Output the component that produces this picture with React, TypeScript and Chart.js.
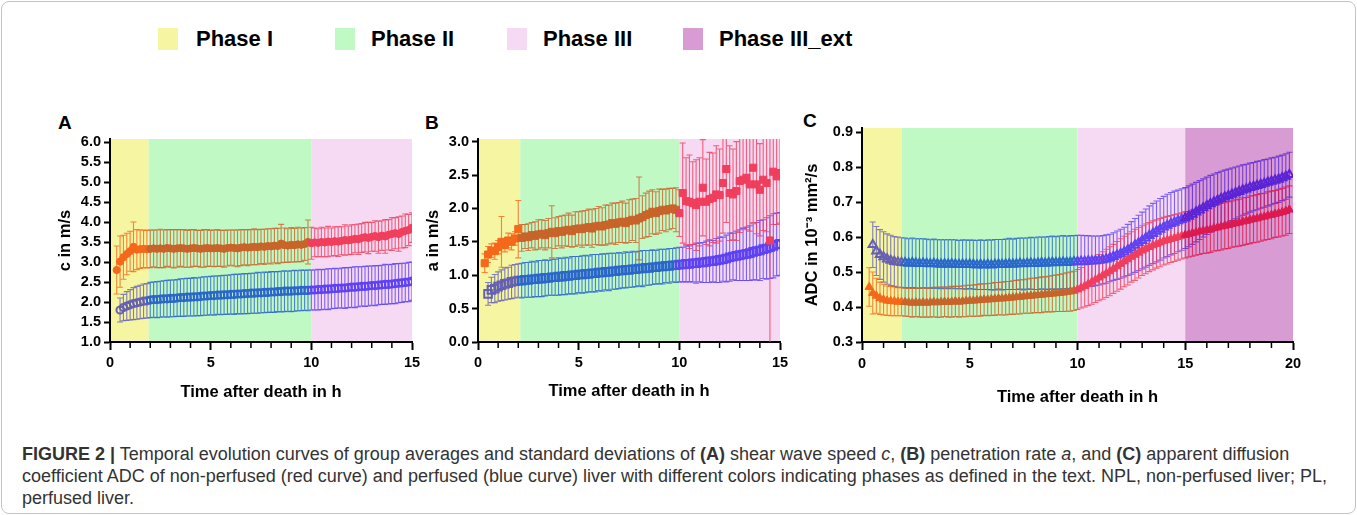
import React, { useEffect, useRef } from "react";
import { Chart, registerables } from "chart.js";

Chart.register(...registerables);

// ---------- time grids (minutes after death) ----------
const TIME_AB_MIN = [
  20, 30, 40, 50, 60, 70, 80, 90, 100, 110,
  120, 130, 140, 150, 160, 170, 180, 190, 200, 210,
  220, 230, 240, 250, 260, 270, 280, 290, 300, 310,
  320, 330, 340, 350, 360, 370, 380, 390, 400, 410,
  420, 430, 440, 450, 460, 470, 480, 490, 500, 510,
  520, 530, 540, 550, 560, 570, 580, 590, 600, 610,
  620, 630, 640, 650, 660, 670, 680, 690, 700, 710,
  720, 730, 740, 750, 760, 770, 780, 790, 800, 810,
  820, 830, 840, 850, 860, 870, 880, 890, 900,
];
const TIME_C_MIN = [
  20, 30, 40, 50, 60, 70, 80, 90, 100, 110,
  120, 130, 140, 150, 160, 170, 180, 190, 200, 210,
  220, 230, 240, 250, 260, 270, 280, 290, 300, 310,
  320, 330, 340, 350, 360, 370, 380, 390, 400, 410,
  420, 430, 440, 450, 460, 470, 480, 490, 500, 510,
  520, 530, 540, 550, 560, 570, 580, 590, 600, 610,
  620, 630, 640, 650, 660, 670, 680, 690, 700, 710,
  720, 730, 740, 750, 760, 770, 780, 790, 800, 810,
  820, 830, 840, 850, 860, 870, 880, 890, 900, 910,
  920, 930, 940, 950, 960, 970, 980, 990, 1000, 1010,
  1020, 1030, 1040, 1050, 1060, 1070, 1080, 1090, 1100, 1110,
  1120, 1130, 1140, 1150, 1160, 1170, 1180, 1190,
];

// ---------- Panel A: shear wave speed c (m/s) ----------
const A_RED_MEAN = [
  2.80, 3.01, 3.12, 3.20, 3.27, 3.38, 3.31, 3.32, 3.33, 3.32,
  3.33, 3.34, 3.33, 3.34, 3.33, 3.35, 3.34, 3.33, 3.34, 3.35,
  3.34, 3.33, 3.34, 3.35, 3.34, 3.33, 3.34, 3.35, 3.34, 3.34,
  3.35, 3.34, 3.33, 3.35, 3.36, 3.35, 3.34, 3.36, 3.37, 3.36,
  3.37, 3.38, 3.37, 3.39, 3.38, 3.40, 3.39, 3.41, 3.40, 3.46,
  3.42, 3.41, 3.43, 3.42, 3.44, 3.43, 3.45, 3.50, 3.47, 3.49,
  3.48, 3.50, 3.49, 3.51, 3.50, 3.52, 3.51, 3.53, 3.55, 3.54,
  3.56, 3.58, 3.57, 3.60, 3.62, 3.60, 3.63, 3.65, 3.62, 3.66,
  3.64, 3.68, 3.70, 3.72, 3.70, 3.75, 3.78, 3.80, 3.86,
];
const A_RED_SD = [
  0.60, 0.64, 0.55, 0.52, 0.50, 0.62, 0.50, 0.48, 0.47, 0.47,
  0.47, 0.46, 0.47, 0.48, 0.47, 0.46, 0.47, 0.48, 0.47, 0.46,
  0.47, 0.46, 0.47, 0.46, 0.45, 0.46, 0.47, 0.46, 0.45, 0.46,
  0.46, 0.45, 0.46, 0.45, 0.44, 0.45, 0.46, 0.45, 0.44, 0.45,
  0.44, 0.45, 0.44, 0.43, 0.44, 0.43, 0.44, 0.43, 0.44, 0.48,
  0.43, 0.42, 0.43, 0.42, 0.43, 0.42, 0.41, 0.55, 0.40, 0.36,
  0.35, 0.37, 0.36, 0.38, 0.35, 0.36, 0.37, 0.35, 0.38, 0.36,
  0.37, 0.35, 0.38, 0.36, 0.37, 0.39, 0.36, 0.38, 0.40, 0.37,
  0.42, 0.38, 0.41, 0.39, 0.43, 0.40, 0.42, 0.39, 0.37,
];
const A_BLUE_MEAN = [
  null, 1.80, 1.86, 1.90, 1.93, 1.96, 1.98, 2.00, 2.02, 2.03,
  2.05, 2.06, 2.06, 2.07, 2.08, 2.08, 2.09, 2.09, 2.10, 2.11,
  2.11, 2.12, 2.12, 2.13, 2.13, 2.14, 2.15, 2.15, 2.16, 2.16,
  2.17, 2.17, 2.18, 2.18, 2.19, 2.19, 2.20, 2.20, 2.21, 2.21,
  2.22, 2.22, 2.23, 2.23, 2.24, 2.24, 2.25, 2.25, 2.26, 2.26,
  2.27, 2.27, 2.27, 2.28, 2.28, 2.29, 2.29, 2.29, 2.30, 2.30,
  2.31, 2.31, 2.32, 2.32, 2.33, 2.34, 2.34, 2.35, 2.35, 2.36,
  2.37, 2.37, 2.38, 2.39, 2.39, 2.40, 2.41, 2.41, 2.42, 2.43,
  2.44, 2.44, 2.45, 2.46, 2.47, 2.48, 2.49, 2.50, 2.52,
];
const A_BLUE_SD = [
  null, 0.30, 0.33, 0.36, 0.38, 0.40, 0.41, 0.42, 0.43, 0.43,
  0.44, 0.44, 0.45, 0.45, 0.45, 0.46, 0.46, 0.46, 0.46, 0.47,
  0.47, 0.47, 0.47, 0.48, 0.47, 0.48, 0.48, 0.48, 0.48, 0.49,
  0.48, 0.49, 0.49, 0.49, 0.49, 0.50, 0.49, 0.50, 0.50, 0.50,
  0.50, 0.50, 0.51, 0.50, 0.51, 0.50, 0.51, 0.51, 0.50, 0.51,
  0.51, 0.50, 0.51, 0.51, 0.50, 0.51, 0.50, 0.51, 0.50, 0.50,
  0.51, 0.50, 0.50, 0.51, 0.50, 0.50, 0.49, 0.50, 0.51, 0.50,
  0.50, 0.51, 0.50, 0.49, 0.50, 0.50, 0.49, 0.50, 0.49, 0.49,
  0.50, 0.49, 0.49, 0.50, 0.49, 0.49, 0.48, 0.49, 0.48,
];

// ---------- Panel B: penetration rate a (m/s) ----------
const B_RED_MEAN = [
  1.18, 1.31, 1.37, 1.36, 1.42, 1.50, 1.45, 1.52, 1.50, 1.55,
  1.69, 1.56, 1.58, 1.57, 1.60, 1.59, 1.61, 1.62, 1.60, 1.63,
  1.65, 1.63, 1.66, 1.65, 1.67, 1.68, 1.66, 1.69, 1.70, 1.69,
  1.71, 1.72, 1.70, 1.73, 1.74, 1.73, 1.75, 1.76, 1.78, 1.77,
  1.79, 1.80, 1.78, 1.81, 1.83, 1.82, 1.85, 1.87, 1.90, 1.92,
  1.95, 1.93, 1.96, 1.98, 1.97, 1.99, 2.00, 1.98, 1.93, 2.23,
  2.11, 2.10, 2.08, 2.05, 2.10, 2.31, 2.10, 2.14, 2.16, 2.21,
  2.20, 2.38, 2.59, 2.23, 2.21, 2.26, 2.41, 2.43, 2.46, 2.36,
  2.61, 2.36, 2.28, 2.43, 2.38, 1.52, 2.55, 2.48, 2.53,
];
const B_RED_SD = [
  0.14, 0.12, 0.10, 0.12, 0.10, 0.38, 0.10, 0.11, 0.12, 0.10,
  0.43, 0.20, 0.18, 0.20, 0.19, 0.21, 0.22, 0.21, 0.22, 0.22,
  0.39, 0.23, 0.22, 0.24, 0.23, 0.25, 0.24, 0.26, 0.25, 0.27,
  0.26, 0.27, 0.28, 0.27, 0.29, 0.28, 0.30, 0.29, 0.30, 0.31,
  0.30, 0.31, 0.30, 0.32, 0.31, 0.33, 0.62, 0.32, 0.33, 0.34,
  0.33, 0.32, 0.33, 0.31, 0.32, 0.31, 0.30, 0.33, 0.35, 0.75,
  0.65, 0.70, 0.62, 0.68, 0.66, 0.72, 0.64, 0.70, 0.67, 0.73,
  0.69, 0.75, 0.80, 0.71, 0.68, 0.74, 0.77, 0.72, 0.78, 0.70,
  0.82, 0.74, 0.69, 0.76, 0.73, 1.55, 0.79, 0.72, 0.75,
];
const B_BLUE_MEAN = [
  null, 0.72, 0.78, 0.80, 0.83, 0.85, 0.87, 0.88, 0.90, 0.91,
  0.92, 0.92, 0.93, 0.93, 0.94, 0.94, 0.95, 0.95, 0.96, 0.96,
  0.97, 0.97, 0.98, 0.98, 0.99, 0.99, 1.00, 1.00, 1.01, 1.01,
  1.02, 1.02, 1.03, 1.03, 1.04, 1.04, 1.05, 1.05, 1.06, 1.06,
  1.07, 1.07, 1.08, 1.08, 1.09, 1.09, 1.10, 1.10, 1.11, 1.11,
  1.12, 1.12, 1.13, 1.13, 1.14, 1.14, 1.15, 1.15, 1.16, 1.16,
  1.17, 1.17, 1.18, 1.18, 1.19, 1.19, 1.20, 1.21, 1.21, 1.22,
  1.23, 1.24, 1.25, 1.27, 1.28, 1.29, 1.30, 1.31, 1.32, 1.33,
  1.35, 1.36, 1.37, 1.39, 1.40, 1.42, 1.44, 1.46, 1.47,
];
const B_BLUE_SD = [
  null, 0.17, 0.19, 0.21, 0.22, 0.23, 0.24, 0.24, 0.25, 0.25,
  0.25, 0.26, 0.26, 0.26, 0.27, 0.26, 0.27, 0.27, 0.27, 0.26,
  0.27, 0.27, 0.28, 0.27, 0.28, 0.27, 0.28, 0.28, 0.27, 0.28,
  0.28, 0.27, 0.28, 0.28, 0.27, 0.28, 0.27, 0.28, 0.27, 0.27,
  0.27, 0.26, 0.27, 0.26, 0.27, 0.26, 0.26, 0.27, 0.26, 0.26,
  0.26, 0.25, 0.26, 0.26, 0.25, 0.26, 0.25, 0.26, 0.26, 0.26,
  0.27, 0.27, 0.28, 0.30, 0.29, 0.30, 0.31, 0.32, 0.31, 0.33,
  0.34, 0.33, 0.35, 0.36, 0.35, 0.37, 0.38, 0.39, 0.40, 0.41,
  0.42, 0.43, 0.45, 0.44, 0.46, 0.47, 0.48, 0.47, 0.47,
];

// ---------- Panel C: ADC (10^-3 mm^2/s) ----------
const C_RED_MEAN = [
  0.457, 0.440, 0.432, 0.425, 0.421, 0.418, 0.417, 0.416, 0.415, 0.415,
  0.414, 0.413, 0.412, 0.413, 0.412, 0.413, 0.412, 0.413, 0.414, 0.413,
  0.414, 0.415, 0.414, 0.415, 0.416, 0.415, 0.416, 0.417, 0.418, 0.418,
  0.419, 0.420, 0.421, 0.421, 0.422, 0.423, 0.424, 0.424, 0.425, 0.426,
  0.427, 0.428, 0.429, 0.430, 0.431, 0.432, 0.433, 0.434, 0.435, 0.436,
  0.437, 0.438, 0.439, 0.440, 0.441, 0.443, 0.444, 0.446, 0.450, 0.455,
  0.460, 0.466, 0.472, 0.478, 0.484, 0.490, 0.496, 0.502, 0.509, 0.516,
  0.523, 0.530, 0.536, 0.543, 0.549, 0.555, 0.561, 0.566, 0.571, 0.576,
  0.580, 0.584, 0.588, 0.591, 0.594, 0.597, 0.600, 0.603, 0.606, 0.608,
  0.611, 0.613, 0.616, 0.618, 0.620, 0.622, 0.625, 0.627, 0.630, 0.632,
  0.634, 0.637, 0.639, 0.641, 0.644, 0.646, 0.649, 0.651, 0.653, 0.656,
  0.658, 0.661, 0.663, 0.666, 0.668, 0.671, 0.674, 0.678,
];
const C_RED_SD = [
  0.055, 0.060, 0.050, 0.046, 0.044, 0.042, 0.042, 0.041, 0.040, 0.040,
  0.040, 0.040, 0.041, 0.040, 0.041, 0.042, 0.041, 0.042, 0.042, 0.043,
  0.043, 0.042, 0.043, 0.044, 0.043, 0.044, 0.044, 0.045, 0.044, 0.045,
  0.045, 0.046, 0.045, 0.046, 0.046, 0.047, 0.046, 0.047, 0.048, 0.047,
  0.048, 0.048, 0.049, 0.048, 0.049, 0.050, 0.049, 0.050, 0.051, 0.050,
  0.051, 0.052, 0.052, 0.053, 0.054, 0.055, 0.056, 0.056, 0.057, 0.058,
  0.060, 0.062, 0.064, 0.065, 0.066, 0.068, 0.069, 0.070, 0.070, 0.071,
  0.072, 0.072, 0.073, 0.072, 0.073, 0.072, 0.071, 0.071, 0.070, 0.070,
  0.069, 0.069, 0.068, 0.068, 0.067, 0.067, 0.066, 0.066, 0.066, 0.065,
  0.066, 0.065, 0.066, 0.065, 0.066, 0.066, 0.065, 0.066, 0.067, 0.066,
  0.067, 0.066, 0.067, 0.067, 0.068, 0.067, 0.068, 0.067, 0.068, 0.068,
  0.067, 0.068, 0.068, 0.067, 0.068, 0.068, 0.069, 0.068,
];
const C_BLUE_MEAN = [
  null, 0.578, 0.560, 0.550, 0.543, 0.537, 0.533, 0.530, 0.528, 0.527,
  0.526, 0.525, 0.526, 0.525, 0.524, 0.525, 0.524, 0.523, 0.524, 0.523,
  0.522, 0.523, 0.522, 0.523, 0.522, 0.521, 0.522, 0.521, 0.522, 0.521,
  0.520, 0.521, 0.520, 0.521, 0.520, 0.521, 0.522, 0.521, 0.522, 0.523,
  0.522, 0.523, 0.524, 0.523, 0.524, 0.525, 0.524, 0.525, 0.526, 0.525,
  0.526, 0.527, 0.526, 0.527, 0.528, 0.527, 0.528, 0.529, 0.529, 0.530,
  0.530, 0.531, 0.531, 0.532, 0.533, 0.535, 0.537, 0.540, 0.544, 0.548,
  0.552, 0.557, 0.563, 0.569, 0.576, 0.583, 0.590, 0.597, 0.604, 0.610,
  0.616, 0.622, 0.628, 0.633, 0.638, 0.642, 0.646, 0.650, 0.654, 0.659,
  0.665, 0.671, 0.677, 0.683, 0.689, 0.695, 0.700, 0.705, 0.710, 0.714,
  0.718, 0.722, 0.726, 0.730, 0.734, 0.737, 0.741, 0.744, 0.747, 0.750,
  0.753, 0.756, 0.759, 0.762, 0.765, 0.769, 0.773, 0.778,
];
const C_BLUE_SD = [
  null, 0.065, 0.070, 0.071, 0.072, 0.072, 0.072, 0.071, 0.072, 0.071,
  0.071, 0.070, 0.071, 0.070, 0.071, 0.070, 0.070, 0.069, 0.070, 0.069,
  0.070, 0.069, 0.070, 0.069, 0.070, 0.069, 0.070, 0.070, 0.069, 0.070,
  0.070, 0.071, 0.070, 0.071, 0.071, 0.072, 0.071, 0.072, 0.072, 0.073,
  0.072, 0.073, 0.073, 0.074, 0.073, 0.074, 0.074, 0.075, 0.074, 0.075,
  0.075, 0.076, 0.075, 0.076, 0.076, 0.075, 0.076, 0.075, 0.076, 0.075,
  0.074, 0.073, 0.072, 0.071, 0.070, 0.069, 0.069, 0.068, 0.068, 0.069,
  0.070, 0.071, 0.073, 0.075, 0.077, 0.079, 0.081, 0.083, 0.085, 0.086,
  0.087, 0.088, 0.088, 0.089, 0.089, 0.089, 0.088, 0.088, 0.087, 0.087,
  0.086, 0.085, 0.084, 0.083, 0.082, 0.081, 0.080, 0.079, 0.078, 0.077,
  0.076, 0.075, 0.074, 0.073, 0.072, 0.071, 0.070, 0.069, 0.069, 0.068,
  0.068, 0.067, 0.067, 0.066, 0.066, 0.065, 0.065, 0.064,
];

// ---------- ticks, phases ----------
const X_TICKS_15 = [0, 1, 2, 3, 4, 5, 6, 7, 8, 9, 10, 11, 12, 13, 14, 15];
const X_TICKS_20 = [0, 1, 2, 3, 4, 5, 6, 7, 8, 9, 10, 11, 12, 13, 14, 15, 16, 17, 18, 19, 20];
const Y_TICKS_A = [1.0, 1.5, 2.0, 2.5, 3.0, 3.5, 4.0, 4.5, 5.0, 5.5, 6.0];
const Y_TICKS_B = [0.0, 0.5, 1.0, 1.5, 2.0, 2.5, 3.0];
const Y_TICKS_C = [0.3, 0.4, 0.5, 0.6, 0.7, 0.8, 0.9];

const PHASE_BOUNDS_A = [0, 1.92, 10, 15];
const PHASE_BOUNDS_B = [0, 2.1, 10, 15];
const PHASE_BOUNDS_C = [0, 1.85, 10, 15, 20];

const PHASE_NAMES = ["Phase I", "Phase II", "Phase III", "Phase III_ext"];
const PHASE_FILL = ["#f5f5a2", "#c1f9c4", "#f6d9f2", "#d99bd3"];
const RED_RGB = ["245,104,26", "200,100,42", "240,62,92", "220,26,80"];
const BLUE_RGB = ["102,96,176", "42,102,204", "94,66,244", "90,36,214"];

const CAPTION_LINE_2 =
  "coefficient ADC of non-perfused (red curve) and perfused (blue curve) liver with different colors indicating phases as defined in the text. NPL, non-perfused liver; PL,";
const CAPTION_LINE_3 = "perfused liver.";

const FONT = "'Liberation Sans', Arial, Helvetica, sans-serif";

function phaseIndex(x: number, bounds: number[]) {
  for (let i = 0; i < bounds.length - 1; i++) if (x < bounds[i + 1]) return i;
  return bounds.length - 2;
}

function toPoints(times: number[], mean: (number | null)[], sd: (number | null)[]) {
  const pts: any[] = [];
  for (let i = 0; i < times.length; i++) {
    if (mean[i] == null) continue;
    pts.push({ x: times[i] / 60, y: mean[i], sd: sd[i] });
  }
  return pts;
}

const PANELS = [
  {
    key: "A", left: 40, top: 100, w: 400, h: 320,
    yAxisW: 70, xAxisH: 78, padTop: 39, padRight: 28,
    yMin: 1, yMax: 6.075, yTicks: Y_TICKS_A, xMax: 15, xTicks: X_TICKS_15,
    bounds: PHASE_BOUNDS_A, yTitle: "c in m/s", yTitlePad: 16, xTitlePad: 18, xTickPad: 4,
    times: TIME_AB_MIN, red: [A_RED_MEAN, A_RED_SD], blue: [A_BLUE_MEAN, A_BLUE_SD],
    style: "circle", redR: 3.6, blueR: 3.6,
  },
  {
    key: "B", left: 410, top: 100, w: 400, h: 320,
    yAxisW: 68, xAxisH: 78, padTop: 39, padRight: 30,
    yMin: 0, yMax: 3.04, yTicks: Y_TICKS_B, xMax: 15, xTicks: X_TICKS_15,
    bounds: PHASE_BOUNDS_B, yTitle: "a in m/s", yTitlePad: 14, xTitlePad: 19, xTickPad: 4,
    times: TIME_AB_MIN, red: [B_RED_MEAN, B_RED_SD], blue: [B_BLUE_MEAN, B_BLUE_SD],
    style: "rect", redR: 5, blueR: 5.4,
  },
  {
    key: "C", left: 790, top: 90, w: 530, h: 330,
    yAxisW: 72, xAxisH: 78, padTop: 38, padRight: 27,
    yMin: 0.3, yMax: 0.9115, yTicks: Y_TICKS_C, xMax: 20, xTicks: X_TICKS_20,
    bounds: PHASE_BOUNDS_C, yTitle: "ADC in 10\u207B\u00B3 mm\u00B2/s", yTitlePad: 13, xTitlePad: 13, xTickPad: 5,
    times: TIME_C_MIN, red: [C_RED_MEAN, C_RED_SD], blue: [C_BLUE_MEAN, C_BLUE_SD],
    style: "triangle", redR: 4.8, blueR: 4.8,
  },
];

function makeConfig(p: any): any {
  const colorOf = (rgbs: string[], alpha: number) => (x: number) =>
    `rgba(${rgbs[phaseIndex(x, p.bounds)]},${alpha})`;
  const redSolid = colorOf(RED_RGB, 1);
  const blueSolid = colorOf(BLUE_RGB, 1);
  const redBar = colorOf(RED_RGB, 0.8);
  const blueBar = colorOf(BLUE_RGB, 0.8);

  const redPts = toPoints(p.times, p.red[0], p.red[1]);
  const bluePts = toPoints(p.times, p.blue[0], p.blue[1]);

  const bandsPlugin = {
    id: "bands",
    beforeDraw(chart: any) {
      const { ctx, chartArea, scales } = chart;
      const xs = scales.x;
      ctx.save();
      for (let i = 0; i < p.bounds.length - 1; i++) {
        const x0 = xs.getPixelForValue(p.bounds[i]);
        const x1 = xs.getPixelForValue(p.bounds[i + 1]);
        ctx.fillStyle = PHASE_FILL[i];
        ctx.fillRect(x0, chartArea.top, x1 - x0, chartArea.bottom - chartArea.top);
      }
      ctx.restore();
    },
  };

  const errorBarsPlugin = {
    id: "errorBars",
    beforeDatasetsDraw(chart: any) {
      const { ctx, chartArea, scales } = chart;
      const xs = scales.x, ys = scales.y;
      ctx.save();
      ctx.beginPath();
      ctx.rect(chartArea.left, chartArea.top, chartArea.right - chartArea.left, chartArea.bottom - chartArea.top);
      ctx.clip();
      ctx.lineWidth = 1.1;
      const series = [
        { pts: bluePts, col: blueBar },
        { pts: redPts, col: redBar },
      ];
      for (const s of series) {
        for (const pt of s.pts) {
          if (pt.sd == null) continue;
          const px = xs.getPixelForValue(pt.x);
          const yt = ys.getPixelForValue(pt.y + pt.sd);
          const yb = ys.getPixelForValue(pt.y - pt.sd);
          ctx.strokeStyle = s.col(pt.x);
          ctx.beginPath();
          ctx.moveTo(px, yt);
          ctx.lineTo(px, yb);
          ctx.moveTo(px - 3, yt);
          ctx.lineTo(px + 3, yt);
          ctx.moveTo(px - 3, yb);
          ctx.lineTo(px + 3, yb);
          ctx.stroke();
        }
      }
      ctx.restore();
    },
  };

  const minorTicksPlugin = {
    id: "minorTicks",
    afterDraw(chart: any) {
      const { ctx, chartArea, scales } = chart;
      const xs = scales.x;
      ctx.save();
      ctx.strokeStyle = "#000";
      ctx.lineWidth = 1.5;
      for (const v of p.xTicks) {
        if (v % 5 === 0) continue;
        const px = xs.getPixelForValue(v);
        ctx.beginPath();
        ctx.moveTo(px, chartArea.bottom);
        ctx.lineTo(px, chartArea.bottom + 6);
        ctx.stroke();
      }
      ctx.restore();
    },
  };

  return {
    type: "scatter",
    data: {
      datasets: [
        {
          label: "NPL",
          data: redPts,
          showLine: false,
          pointStyle: p.style,
          pointRadius: p.redR,
          pointBorderWidth: 1,
          pointBackgroundColor: (c: any) => (c.raw ? redSolid(c.raw.x) : "#f00"),
          pointBorderColor: (c: any) => (c.raw ? redSolid(c.raw.x) : "#f00"),
        },
        {
          label: "PL",
          data: bluePts,
          showLine: false,
          pointStyle: p.style,
          pointRadius: p.blueR,
          pointBorderWidth: 2,
          pointBackgroundColor: "rgba(0,0,0,0)",
          pointBorderColor: (c: any) => (c.raw ? blueSolid(c.raw.x) : "#00f"),
        },
      ],
    },
    options: {
      animation: false,
      responsive: false,
      maintainAspectRatio: false,
      devicePixelRatio: 1,
      events: [],
      layout: { padding: { left: 0, right: p.padRight, top: p.padTop, bottom: 0 } },
      plugins: { legend: { display: false }, tooltip: { enabled: false }, title: { display: false } },
      scales: {
        x: {
          type: "linear",
          min: 0,
          max: p.xMax,
          afterBuildTicks: (s: any) => {
            s.ticks = p.xTicks.map((v: number) => ({ value: v }));
          },
          afterFit: (s: any) => {
            s.height = p.xAxisH;
          },
          ticks: {
            autoSkip: false,
            maxRotation: 0,
            padding: p.xTickPad,
            color: "#000",
            font: { family: FONT, size: 14.5, weight: "bold" },
            callback: (v: any) => (Number(v) % 5 === 0 ? String(v) : ""),
          },
          grid: {
            display: true,
            drawOnChartArea: false,
            drawTicks: true,
            tickLength: 8,
            tickWidth: 2,
            tickColor: (c: any) => (c.tick && c.tick.value % 5 === 0 ? "#000" : "rgba(0,0,0,0)"),
          },
          border: { display: true, color: "#000", width: 2 },
          title: {
            display: true,
            text: "Time after death in h",
            color: "#000",
            font: { family: FONT, size: 16.5, weight: "bold" },
            padding: { top: 0, bottom: p.xTitlePad },
          },
        },
        y: {
          type: "linear",
          min: p.yMin,
          max: p.yMax,
          afterBuildTicks: (s: any) => {
            s.ticks = p.yTicks.map((v: number) => ({ value: v }));
          },
          afterFit: (s: any) => {
            s.width = p.yAxisW;
          },
          ticks: {
            autoSkip: false,
            padding: 3,
            color: "#000",
            font: { family: FONT, size: 14.5, weight: "bold" },
            callback: (v: any) => Number(v).toFixed(1),
          },
          grid: {
            display: true,
            drawOnChartArea: false,
            drawTicks: true,
            tickLength: 6,
            tickWidth: 2,
            tickColor: "#000",
          },
          border: { display: true, color: "#000", width: 2 },
          title: {
            display: true,
            text: p.yTitle,
            color: "#000",
            font: { family: FONT, size: 16.5, weight: "bold" },
            padding: { top: p.yTitlePad, bottom: 0 },
          },
        },
      },
    },
    plugins: [bandsPlugin, errorBarsPlugin, minorTicksPlugin],
  };
}

function Panel({ p }: { p: any }) {
  const ref = useRef<HTMLCanvasElement | null>(null);
  useEffect(() => {
    if (!ref.current) return;
    const chart = new Chart(ref.current, makeConfig(p));
    return () => chart.destroy();
  }, [p]);
  return (
    <canvas
      ref={ref}
      width={p.w}
      height={p.h}
      style={{ position: "absolute", left: p.left, top: p.top, width: p.w, height: p.h }}
    />
  );
}

const LEGEND_SWATCH_X = [158, 335, 507, 683];
const LEGEND_TEXT_X = [196, 371, 543, 719];
const PANEL_LETTERS = [
  { t: "A", x: 58, y: 113 },
  { t: "B", x: 425, y: 113 },
  { t: "C", x: 803, y: 111 },
];

export default function App() {
  return (
    <div
      style={{
        position: "absolute",
        left: 0,
        top: 0,
        width: 1357,
        height: 515,
        overflow: "hidden",
        background: "#fff",
        fontFamily: FONT,
      }}
    >
      <div
        style={{
          position: "absolute",
          left: 1,
          top: 1,
          width: 1353,
          height: 511,
          border: "1px solid #c4c4c4",
          borderRadius: 8,
        }}
      />
      {PHASE_NAMES.map((n, i) => (
        <React.Fragment key={n}>
          <div
            style={{
              position: "absolute",
              left: LEGEND_SWATCH_X[i],
              top: 28,
              width: 20,
              height: 22,
              background: PHASE_FILL[i],
            }}
          />
          <div
            style={{
              position: "absolute",
              left: LEGEND_TEXT_X[i],
              top: 28,
              fontSize: 22,
              lineHeight: "22px",
              fontWeight: "bold",
              color: "#000",
              whiteSpace: "nowrap",
            }}
          >
            {n}
          </div>
        </React.Fragment>
      ))}
      {PANEL_LETTERS.map((l) => (
        <div
          key={l.t}
          style={{
            position: "absolute",
            left: l.x,
            top: l.y,
            fontSize: 19,
            lineHeight: "19px",
            fontWeight: "bold",
            color: "#000",
          }}
        >
          {l.t}
        </div>
      ))}
      {PANELS.map((p) => (
        <Panel key={p.key} p={p} />
      ))}
      <div
        style={{
          position: "absolute",
          left: 22,
          top: 443,
          fontFamily: FONT,
          fontSize: 18,
          lineHeight: "22px",
          color: "#333",
          whiteSpace: "nowrap",
        }}
      >
        <div>
          <b>FIGURE 2 |</b> Temporal evolution curves of group averages and standard deviations of <b>(A)</b> shear wave
          speed <i>c</i>, <b>(B)</b> penetration rate <i>a</i>, and <b>(C)</b> apparent diffusion
        </div>
        <div>{CAPTION_LINE_2}</div>
        <div>{CAPTION_LINE_3}</div>
      </div>
    </div>
  );
}
